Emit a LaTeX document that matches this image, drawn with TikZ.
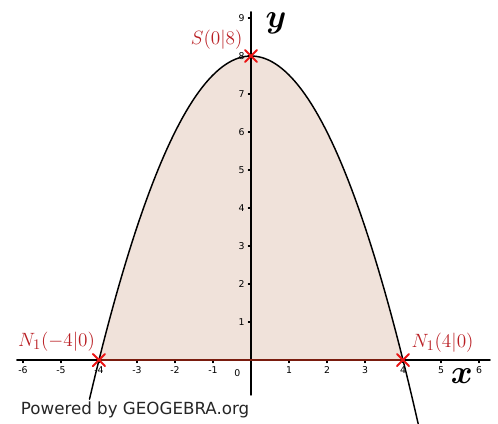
\documentclass[tikz,border=0pt]{standalone}
\usepackage{amsmath}
\usepackage{bm}
\usepackage{fontspec}
\newfontfamily\geofont{DejaVu Sans}
\definecolor{flaeche}{RGB}{240,226,218}
\definecolor{dunkelrot}{RGB}{122,28,14}
\definecolor{punktrot}{RGB}{235,20,20}
\definecolor{textrot}{RGB}{185,30,35}
\begin{document}
\begin{tikzpicture}[x=1cm, y=1cm, line join=round, line cap=round, font=\geofont\fontsize{7}{8}\selectfont,
	achse/.style={line width=1.1pt, black},
	kreuz/.style={punktrot, line width=1.4pt},
	punktlabel/.style={textrot, font=\fontsize{15}{17}\selectfont, inner sep=0pt}]
	\useasboundingbox (-6.605,-1.658) rectangle (6.5,9.474);
	\def\Links{-4}      
	\def\Rechts{4}      
	\fill[flaeche] (\Links,0) -- plot[domain=\Links:\Rechts, samples=80] (\x,{8-0.5*\x*\x}) -- cycle;
	\draw[achse] (-6.16,0) -- (6.29,0);
	\draw[achse] (0,-0.92) -- (0,9.16);
	\foreach \i in {-6,...,-1,1,2,...,6} 
	\draw[line width=0.8pt] (\i,0) -- (\i,-0.07) node[below=2.5pt, inner sep=0pt] (xt\i) {\i};
	\foreach \j in {1,...,9} 
	\draw[line width=0.8pt] (0,\j) -- (-0.07,\j) node[left=2.5pt, inner sep=0pt] (yt\j) {\j};
	\node (null) at (-0.36,-0.34) {0};
	\draw[line width=1.1pt] plot[domain=-4.25:4.4, samples=100] (\x,{8-0.5*\x*\x});
	\draw[dunkelrot, line width=2.2pt] (\Links,0) -- (\Rechts,0);
	\coordinate (S) at (0,8);
	\coordinate (Na) at (-4,0);
	\coordinate (Nb) at (4,0);
	\foreach \p in {S,Na,Nb}
	\draw[kreuz] (\p) +(-0.16,-0.16) -- +(0.16,0.16) (\p) +(-0.16,0.16) -- +(0.16,-0.16);
	\node[punktlabel, anchor=east] (LS) at (-0.22,8.42) {$S(0|8)$};
	\node[punktlabel, anchor=east] (LNa) at (-4.1,0.47) {$N_1(-4|0)$};
	\node[punktlabel, anchor=west] (LNb) at (4.22,0.45) {$N_1(4|0)$};
	\node[font=\fontsize{23}{25}\selectfont, inner sep=0pt] (ylab) at (0.66,8.87) {$\bm{y}$};
	\node[font=\fontsize{23}{25}\selectfont, inner sep=0pt] (xlab) at (5.55,-0.42) {$\bm{x}$};
	\node[font=\geofont\fontsize{12.5}{14}\selectfont, black!85] (geo) at (-3.05,-1.32) {Powered by GEOGEBRA.org};
\end{tikzpicture}
\end{document}
